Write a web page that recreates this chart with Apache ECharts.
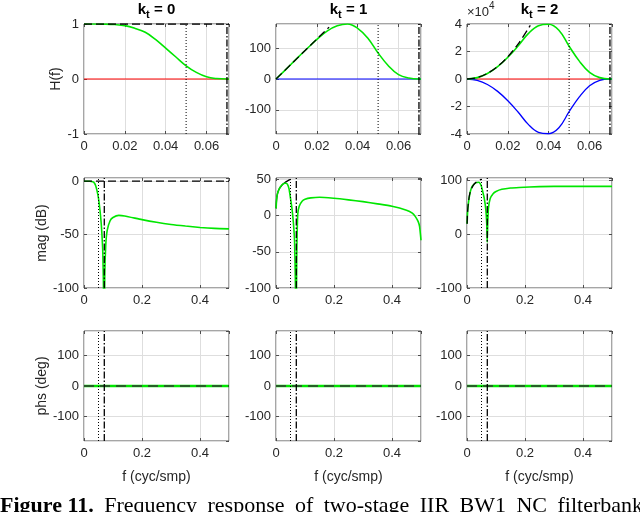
<!DOCTYPE html>
<html>
<head>
<meta charset="utf-8">
<script src="https://cdn.jsdelivr.net/npm/echarts@6/dist/echarts.min.js"></script>
<style>
  html, body { margin: 0; padding: 0; background: #fff; }
  #fig { width: 640px; height: 512px; }
</style>
</head>
<body>
<div id="fig"></div>
<script>
// band edges (cyc/smp)
const fPass = 0.05;
const fStop = 0.07;

// row 1: H(f), low-frequency zoom
const fLow = [0, 0.005, 0.01, 0.015, 0.02, 0.025, 0.03, 0.035, 0.04, 0.045, 0.05, 0.055, 0.06, 0.065, 0.07, 0.071];
const reH0 = [1, 1, 0.998, 0.99, 0.97, 0.92, 0.85, 0.72, 0.56, 0.40, 0.24, 0.12, 0.04, 0.008, 0, 0];
const reH1 = [0, 32, 65, 97, 128, 155, 172, 178, 164, 132, 84, 43, 14, 3, 0, 0];
const reH2 = [0, 0.1, 0.4, 0.9, 1.58, 2.4, 3.3, 3.88, 3.98, 3.55, 2.38, 1.3, 0.49, 0.1, 0, 0];        // x1e4
const imH2 = [0, -0.1, -0.4, -0.9, -1.58, -2.4, -3.3, -3.88, -3.98, -3.55, -2.38, -1.3, -0.49, -0.1, 0, 0]; // x1e4
const fZero = [0, 0.071];
const zeroLow = [0, 0];
const fRef0 = [0, 0.071];
const ref0 = [1, 1];
const fRef1 = [0, 0.026];
const ref1 = [0, 168];
const fRef2 = [0, 0.005, 0.01, 0.015, 0.02, 0.025, 0.031];
const ref2 = [0, 0.1, 0.41, 0.91, 1.62, 2.54, 3.9];   // x1e4

// row 2: magnitude (dB)
const fM0 = [0, 0.02, 0.03, 0.035, 0.04, 0.045, 0.05, 0.055, 0.06, 0.065, 0.068, 0.0698, 0.0715, 0.075, 0.08, 0.09, 0.1, 0.12, 0.14, 0.2, 0.25, 0.3, 0.35, 0.4, 0.45, 0.5];
const mag0 = [0, 0, -0.5, -1.5, -4, -9, -16, -27, -42, -68, -115, -200, -90, -60, -46, -37, -34, -32, -32.5, -36, -38.5, -40.5, -42, -43.3, -44.2, -44.6];
const fM1 = [0.0005, 0.002, 0.005, 0.01, 0.015, 0.02, 0.025, 0.03, 0.035, 0.04, 0.045, 0.05, 0.055, 0.06, 0.064, 0.0675, 0.069, 0.0715, 0.075, 0.08, 0.09, 0.1, 0.12, 0.15, 0.2, 0.25, 0.3, 0.35, 0.4, 0.45, 0.47, 0.48, 0.49, 0.495, 0.5];
const mag1 = [10, 22, 30, 36, 39.5, 42, 43.8, 44.8, 44.8, 43, 37, 24, 10, -10, -35, -110, -200, -60, 2, 13, 20, 22.5, 24.5, 25.5, 24, 21.8, 19.3, 16.3, 13, 7.5, 3.5, -1, -8, -15, -34];
const fM2 = [0.0005, 0.002, 0.005, 0.01, 0.015, 0.02, 0.03, 0.04, 0.045, 0.05, 0.055, 0.06, 0.065, 0.068, 0.0698, 0.0715, 0.074, 0.08, 0.09, 0.1, 0.12, 0.15, 0.18, 0.25, 0.3, 0.4, 0.5];
const mag2 = [19, 40, 58, 75, 85, 90, 95, 96, 94, 88, 77, 65, 45, 20, -15, 20, 48, 66, 75, 79, 83, 85.5, 86.5, 88, 88.5, 88.5, 88.5];
const fB0 = [0, 0.5];
const bl0 = [0, 0];
const fB1 = [0.0005, 0.002, 0.005, 0.01, 0.02, 0.03, 0.04, 0.05];
const bl1 = [10, 22, 30, 36, 42, 45.5, 48, 50];
const fB2 = [0.0005, 0.002, 0.005, 0.01, 0.02, 0.03, 0.04, 0.05];
const bl2 = [19, 41, 59, 76, 89, 95.5, 99, 102];

// row 3: phase (deg)
const fPh = [0, 0.5];
const ph = [0, 0];

const titles = ['0', '1', '2'];
const captionBold = 'Figure 11.';
const captionWords = ['Frequency', 'response', 'of', 'two-stage', 'IIR', 'BW1', 'NC', 'filterbank'];

// ---------- layout / style ----------
const FONT = "'Liberation Sans', Arial, Helvetica, sans-serif";
const SERIF = "'Liberation Serif', 'Times New Roman', serif";
const TXT = '#262626';
const BOX = '#4d4d4d';
const GRIDC = '#dedede';
const GREEN = '#00e600';
const colLeft = [84, 276, 467];
const rowTop = [24, 178, 331];
const gridW = 145;
const gridH = 110;

const grids = [], xAxes = [], yAxes = [], series = [];

const fmtLow = v => (v === 0 ? '0' : v.toFixed(2));
const fmtHigh = v => (v === 0 ? '0' : v.toFixed(1));
const fmtInt = v => String(Math.round(v));

function addPanel(row, col, xs, ys) {
  const i = grids.length;
  grids.push({
    left: colLeft[col], top: rowTop[row], width: gridW, height: gridH,
    show: true, borderColor: BOX, borderWidth: 1, backgroundColor: '#fff'
  });
  const tick = { show: true, inside: true, length: 3, lineStyle: { color: BOX, width: 1 } };
  const noLine = { show: false, onZero: false };
  xAxes.push({
    type: 'value', gridIndex: i, position: 'bottom',
    min: xs.min, max: xs.max, interval: xs.interval,
    axisLine: noLine, axisTick: tick,
    splitLine: { show: true, lineStyle: { color: GRIDC, width: 1 } },
    axisLabel: { color: TXT, fontFamily: FONT, fontSize: 13, margin: 6, showMinLabel: true, showMaxLabel: false, formatter: xs.fmt },
    name: xs.name || '', nameLocation: 'middle', nameGap: 29,
    nameTextStyle: { color: TXT, fontFamily: FONT, fontSize: 14 }
  });
  xAxes.push({
    type: 'value', gridIndex: i, position: 'top',
    min: xs.min, max: xs.max, interval: xs.interval,
    axisLine: noLine, axisTick: tick, axisLabel: { show: false }, splitLine: { show: false }
  });
  const yAx = {
    type: 'value', gridIndex: i, position: 'left',
    min: ys.min, max: ys.max,
    axisLine: noLine, axisTick: tick,
    splitLine: { show: true, lineStyle: { color: GRIDC, width: 1 } },
    axisLabel: { color: TXT, fontFamily: FONT, fontSize: 13, margin: 5, showMinLabel: ys.showMin, showMaxLabel: ys.showMax, formatter: ys.fmt || fmtInt },
    name: ys.name || '', nameLocation: 'middle', nameGap: ys.gap || 30,
    nameTextStyle: { color: TXT, fontFamily: FONT, fontSize: 14 }
  };
  if (ys.interval) yAx.interval = ys.interval;
  yAxes.push(yAx);
  const yAx2 = {
    type: 'value', gridIndex: i, position: 'right',
    min: ys.min, max: ys.max,
    axisLine: noLine, axisTick: tick, axisLabel: { show: false }, splitLine: { show: false }
  };
  if (ys.interval) yAx2.interval = ys.interval;
  yAxes.push(yAx2);
  return { x: 2 * i, y: 2 * i, ymin: ys.min, ymax: ys.max };
}

function addLine(ax, xs, ys, color, width, type, z, smooth) {
  series.push({
    type: 'line', xAxisIndex: ax.x, yAxisIndex: ax.y,
    data: xs.map((f, k) => [f, ys[k]]),
    symbol: 'none', showSymbol: false, clip: true, silent: true, animation: false,
    smooth: smooth || false,
    lineStyle: { color: color, width: width, type: type || 'solid' },
    z: z
  });
}

function addMarkers(ax) {
  addLine(ax, [fPass, fPass], [ax.ymin, ax.ymax], '#000', 1, [1, 2], 6);
  addLine(ax, [fStop, fStop], [ax.ymin, ax.ymax], '#000', 1.3, [7, 2, 1.5, 2], 6);
}

const DASH = [8, 4];

// ----- row 1 -----
const xLow = { min: 0, max: 0.071, interval: 0.02, fmt: fmtLow };
let ax = addPanel(0, 0, xLow, { min: -1, max: 1, interval: 1, showMin: true, showMax: true, name: 'H(f)', gap: 20 });
addMarkers(ax);
addLine(ax, fZero, zeroLow, '#ff0000', 1, 'solid', 3);
addLine(ax, fLow, reH0, GREEN, 1.6, 'solid', 4, 0.4);
addLine(ax, fRef0, ref0, '#000', 1.3, DASH, 5);

ax = addPanel(0, 1, xLow, { min: -178, max: 178, showMin: false, showMax: false });
addMarkers(ax);
addLine(ax, fZero, zeroLow, '#0000ff', 1, 'solid', 3);
addLine(ax, fLow, reH1, GREEN, 1.6, 'solid', 4, 0.4);
addLine(ax, fRef1, ref1, '#000', 1.3, DASH, 5);

ax = addPanel(0, 2, xLow, { min: -4, max: 4, interval: 2, showMin: true, showMax: true });
addMarkers(ax);
addLine(ax, fZero, zeroLow, '#ff0000', 1, 'solid', 3);
addLine(ax, fLow, imH2, '#0000ff', 1.3, 'solid', 3, 0.4);
addLine(ax, fLow, reH2, GREEN, 1.6, 'solid', 4, 0.4);
addLine(ax, fRef2, ref2, '#000', 1.3, DASH, 5, 0.3);

// ----- row 2 -----
const xHigh = { min: 0, max: 0.5, interval: 0.2, fmt: fmtHigh };
ax = addPanel(1, 0, xHigh, { min: -100, max: 3, interval: 50, showMin: true, showMax: false, name: 'mag (dB)', gap: 34 });
addMarkers(ax);
addLine(ax, fM0, mag0, GREEN, 1.6, 'solid', 4, 0.2);
addLine(ax, fB0, bl0, '#000', 1.3, DASH, 5);

ax = addPanel(1, 1, xHigh, { min: -100, max: 52, interval: 50, showMin: true, showMax: false });
addMarkers(ax);
addLine(ax, fB1, bl1, '#000', 1.3, 'solid', 3, 0.3);
addLine(ax, fM1, mag1, GREEN, 1.6, 'solid', 4, 0.2);

ax = addPanel(1, 2, xHigh, { min: -100, max: 104, interval: 100, showMin: true, showMax: false });
addMarkers(ax);
addLine(ax, fB2, bl2, '#000', 1.3, DASH, 5, 0.3);
addLine(ax, fM2, mag2, GREEN, 1.6, 'solid', 4, 0.2);

// ----- row 3 -----
for (let c = 0; c < 3; c++) {
  ax = addPanel(2, c, Object.assign({ name: 'f (cyc/smp)' }, xHigh),
    { min: -180, max: 180, showMin: false, showMax: false, name: c === 0 ? 'phs (deg)' : '', gap: 34 });
  addMarkers(ax);
  addLine(ax, fPh, ph, GREEN, 2.4, 'solid', 4);
  addLine(ax, fPh, ph, '#333', 1.6, [10, 6], 5);
}

// ---------- titles & annotations ----------
const graphic = [];
const centers = colLeft.map(l => l + gridW / 2);
titles.forEach((t, c) => {
  graphic.push({
    type: 'text', x: centers[c], y: -1, silent: true,
    style: {
      text: '{k|k}{s|t}{k| = ' + t + '}',
      align: 'center', verticalAlign: 'top',
      rich: {
        k: { fontFamily: FONT, fontSize: 15, fontWeight: 'bold', fill: '#000', lineHeight: 21 },
        s: { fontFamily: FONT, fontSize: 11, fontWeight: 'bold', fill: '#000', lineHeight: 11, verticalAlign: 'bottom' }
      }
    }
  });
});
graphic.push({
  type: 'text', x: 467, y: 1, silent: true,
  style: {
    text: '{a|\u00d710}{b|4}', align: 'left', verticalAlign: 'top',
    rich: {
      a: { fontFamily: FONT, fontSize: 13, fill: TXT, lineHeight: 18, verticalAlign: 'bottom' },
      b: { fontFamily: FONT, fontSize: 10, fill: TXT, lineHeight: 10, verticalAlign: 'top' }
    }
  }
});

// caption, justified across the page and cut by the bottom edge
const CAP_SIZE = 22;
const ctx = document.createElement('canvas').getContext('2d');
ctx.font = 'bold ' + CAP_SIZE + 'px ' + SERIF;
const boldW = ctx.measureText(captionBold).width;
ctx.font = CAP_SIZE + 'px ' + SERIF;
const wordW = captionWords.map(w => ctx.measureText(w).width);
const capRight = 643;
const gap = (capRight - boldW - wordW.reduce((a, b) => a + b, 0)) / captionWords.length;
graphic.push({
  type: 'text', x: 0, y: 495, silent: true,
  style: { text: captionBold, fontFamily: SERIF, fontSize: CAP_SIZE, fontWeight: 'bold', fill: '#000', align: 'left', verticalAlign: 'top' }
});
let cx = boldW + gap;
captionWords.forEach((w, k) => {
  graphic.push({
    type: 'text', x: cx, y: 495, silent: true,
    style: { text: w, fontFamily: SERIF, fontSize: CAP_SIZE, fill: '#000', align: 'left', verticalAlign: 'top' }
  });
  cx += wordW[k] + gap;
});

const chart = echarts.init(document.getElementById('fig'), null, { renderer: 'canvas' });
chart.setOption({
  backgroundColor: '#fff',
  animation: false,
  grid: grids,
  xAxis: xAxes,
  yAxis: yAxes,
  series: series,
  graphic: graphic
});
</script>
</body>
</html>
